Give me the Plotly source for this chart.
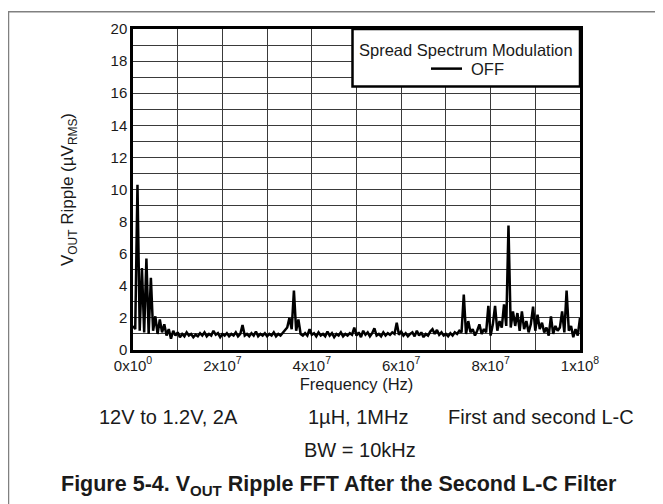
import plotly.graph_objects as go

# Frequency in MHz (axis labelled in Hz via tick text)
freq_mhz = [
    0, 0.5, 1, 1.5, 2, 2.5, 3, 3.5, 4, 4.5, 5, 5.5, 6, 6.5, 7, 7.5, 8, 8.5, 9, 9.5,
    10, 10.5, 11, 11.5, 12, 12.5, 13, 13.5, 14, 14.5, 15, 15.5, 16, 16.5, 17, 17.5, 18, 18.5, 19, 19.5,
    20, 20.5, 21, 21.5, 22, 22.5, 23, 23.5, 24, 24.5, 25, 25.5, 26, 26.5, 27, 27.5, 28, 28.5, 29, 29.5,
    30, 30.5, 31, 31.5, 32, 32.5, 33, 33.5, 34, 34.5, 35, 35.5, 36, 36.5, 37, 37.5, 38, 38.5, 39, 39.5,
    40, 40.5, 41, 41.5, 42, 42.5, 43, 43.5, 44, 44.5, 45, 45.5, 46, 46.5, 47, 47.5, 48, 48.5, 49, 49.5,
    50, 50.5, 51, 51.5, 52, 52.5, 53, 53.5, 54, 54.5, 55, 55.5, 56, 56.5, 57, 57.5, 58, 58.5, 59, 59.5,
    60, 60.5, 61, 61.5, 62, 62.5, 63, 63.5, 64, 64.5, 65, 65.5, 66, 66.5, 67, 67.5, 68, 68.5, 69, 69.5,
    70, 70.5, 71, 71.5, 72, 72.5, 73, 73.5, 74, 74.5, 75, 75.5, 76, 76.5, 77, 77.5, 78, 78.5, 79, 79.5,
    80, 80.5, 81, 81.5, 82, 82.5, 83, 83.5, 84, 84.5, 85, 85.5, 86, 86.5, 87, 87.5, 88, 88.5, 89, 89.5,
    90, 90.5, 91, 91.5, 92, 92.5, 93, 93.5, 94, 94.5, 95, 95.5, 96, 96.5, 97, 97.5, 98, 98.5, 99, 99.5,
    100,
]

# VOUT ripple in uV RMS, spread spectrum OFF
ripple_off = [
    1.5, 1.3, 10.3, 1.2, 5.1, 1.1, 5.7, 1.0, 4.5, 1.2, 2.1, 1.0, 1.9, 1.1, 1.6, 0.9, 1.3, 0.7, 1.2, 0.9,
    1.1, 0.8, 1.0, 0.85, 1.1, 0.9, 1.0, 0.8, 0.95, 0.85, 1.05, 0.9, 1.1, 0.85, 1.0, 0.9, 1.2, 0.95, 1.05, 0.8,
    1.0, 0.9, 1.05, 0.85, 1.0, 0.9, 1.1, 0.85, 1.0, 1.55, 0.9, 1.0, 0.85, 1.05, 0.9, 1.15, 0.85, 1.0, 0.9, 1.05,
    0.85, 1.0, 0.9, 1.1, 0.85, 1.0, 0.9, 1.05, 1.2, 1.4, 2.0, 1.3, 3.7, 1.2, 1.9, 1.0, 0.9, 1.05, 0.9, 1.3,
    0.95, 1.05, 0.85, 1.1, 0.9, 1.0, 0.85, 1.15, 0.9, 1.05, 0.8, 1.0, 0.9, 1.1, 0.85, 1.0, 0.9, 1.05, 0.95, 1.4,
    0.9, 1.1, 0.8, 1.2, 0.95, 1.1, 0.85, 1.05, 1.35, 0.9, 1.0, 0.85, 1.1, 0.9, 1.05, 0.95, 1.1, 1.0, 1.7, 0.95,
    1.15, 0.9, 1.05, 0.85, 1.0, 1.1, 0.85, 1.2, 0.9, 1.1, 0.8, 1.0, 0.9, 1.15, 1.3, 1.0, 1.25, 0.95, 1.1, 0.9,
    1.0, 0.85, 1.05, 0.9, 1.1, 1.0, 1.2, 1.1, 3.45, 1.0, 1.8, 1.1, 1.3, 0.9, 1.2, 1.6, 1.0, 1.3, 1.1, 2.75,
    0.9, 1.6, 2.75, 1.2, 1.8, 1.4, 2.85, 1.5, 7.75, 1.4, 2.4, 1.5, 2.3, 1.2, 2.4, 1.3, 1.8, 1.1, 1.6, 2.7,
    1.2, 2.2, 1.3, 1.7, 1.1, 1.4, 0.9, 2.1, 1.0, 1.5, 1.2, 1.4, 2.4, 1.1, 3.7, 1.2, 1.5, 0.8, 1.3, 0.9,
    2.0,
]

x_tickvals = [0, 20, 40, 60, 80, 100]
x_ticktext = ["0x10<sup>0</sup>", "2x10<sup>7</sup>", "4x10<sup>7</sup>",
              "6x10<sup>7</sup>", "8x10<sup>7</sup>", "1x10<sup>8</sup>"]
y_tickvals = [0, 2, 4, 6, 8, 10, 12, 14, 16, 18, 20]

FONT = "Liberation Sans, Arial, sans-serif"
TXT = "#1a1a1a"

# geometry helpers (plot area: x 125..572 px, y 18..342 px)
PL, PR, PT, PB = 125, 572, 18, 342


def px(x):
    return (x - PL) / (PR - PL)


def py(y):
    return (PB - y) / (PB - PT)


fig = go.Figure()
fig.add_trace(go.Scatter(
    x=freq_mhz, y=ripple_off, mode="lines", name="OFF",
    line=dict(color="black", width=2.5), showlegend=False,
))

fig.update_layout(
    width=663, height=504,
    margin=dict(l=PL, r=663 - PR, t=PT, b=504 - PB),
    paper_bgcolor="white", plot_bgcolor="white",
    font=dict(family=FONT, size=15, color=TXT),
    xaxis=dict(
        range=[0, 100], tickvals=x_tickvals, ticktext=x_ticktext,
        showgrid=True, gridcolor="#3a3a3a", gridwidth=1,
        minor=dict(dtick=10, showgrid=True, gridcolor="#3a3a3a", gridwidth=1),
        showline=True, linecolor="black", linewidth=2.5, mirror=True,
        ticks="", zeroline=False,
        title=dict(text="Frequency (Hz)", standoff=6, font=dict(size=16.5)),
        tickfont=dict(size=15),
    ),
    yaxis=dict(
        range=[0, 20], tickvals=y_tickvals,
        showgrid=True, gridcolor="#3a3a3a", gridwidth=1,
        minor=dict(dtick=1, showgrid=True, gridcolor="#3a3a3a", gridwidth=1),
        showline=True, linecolor="black", linewidth=2.5, mirror=True,
        ticks="", zeroline=False,
        title=dict(text="V<sub>OUT</sub> Ripple (µV<sub>RMS</sub>)", standoff=33, font=dict(size=17)),
        tickfont=dict(size=15),
    ),
)

# Legend box (manual, top right)
fig.add_shape(type="rect", xref="paper", yref="paper", x0=px(344.5), x1=1.0, y0=py(76), y1=1.0,
              line=dict(color="black", width=2.5), fillcolor="white", layer="above")
fig.add_annotation(xref="paper", yref="paper", x=px(458), y=py(39), xanchor="center", yanchor="middle",
                   text="Spread Spectrum Modulation", showarrow=False, font=dict(size=16.5, color=TXT))
fig.add_shape(type="line", xref="paper", yref="paper", x0=px(423), x1=px(454), y0=py(58), y1=py(58),
              line=dict(color="black", width=2.5), layer="above")
fig.add_annotation(xref="paper", yref="paper", x=px(461), y=py(58), text="OFF", xanchor="left", yanchor="middle",
                   showarrow=False, font=dict(size=16.5, color=TXT))

# Conditions text below chart
cond = dict(size=20, color=TXT)
fig.add_annotation(xref="paper", yref="paper", x=px(160), y=py(410), text="12V to 1.2V, 2A",
                   xanchor="center", yanchor="middle", showarrow=False, font=cond)
fig.add_annotation(xref="paper", yref="paper", x=px(350), y=py(410), text="1µH, 1MHz",
                   xanchor="center", yanchor="middle", showarrow=False, font=cond)
fig.add_annotation(xref="paper", yref="paper", x=px(533), y=py(410), text="First and second L-C",
                   xanchor="center", yanchor="middle", showarrow=False, font=cond)
fig.add_annotation(xref="paper", yref="paper", x=px(352), y=py(443), text="BW = 10kHz",
                   xanchor="center", yanchor="middle", showarrow=False, font=cond)
fig.add_annotation(xref="paper", yref="paper", x=px(331), y=py(479),
                   text="<b>Figure 5-4. V<sub>OUT</sub> Ripple FFT After the Second L-C Filter</b>",
                   xanchor="center", yanchor="middle", showarrow=False, font=dict(size=21.5, color=TXT))

# Outer frame
fig.add_shape(type="rect", xref="paper", yref="paper", x0=px(0.5), x1=px(662), y0=py(503), y1=py(0.5),
              line=dict(color="#808080", width=1.5), layer="below")

fig.write_html("out.html")
